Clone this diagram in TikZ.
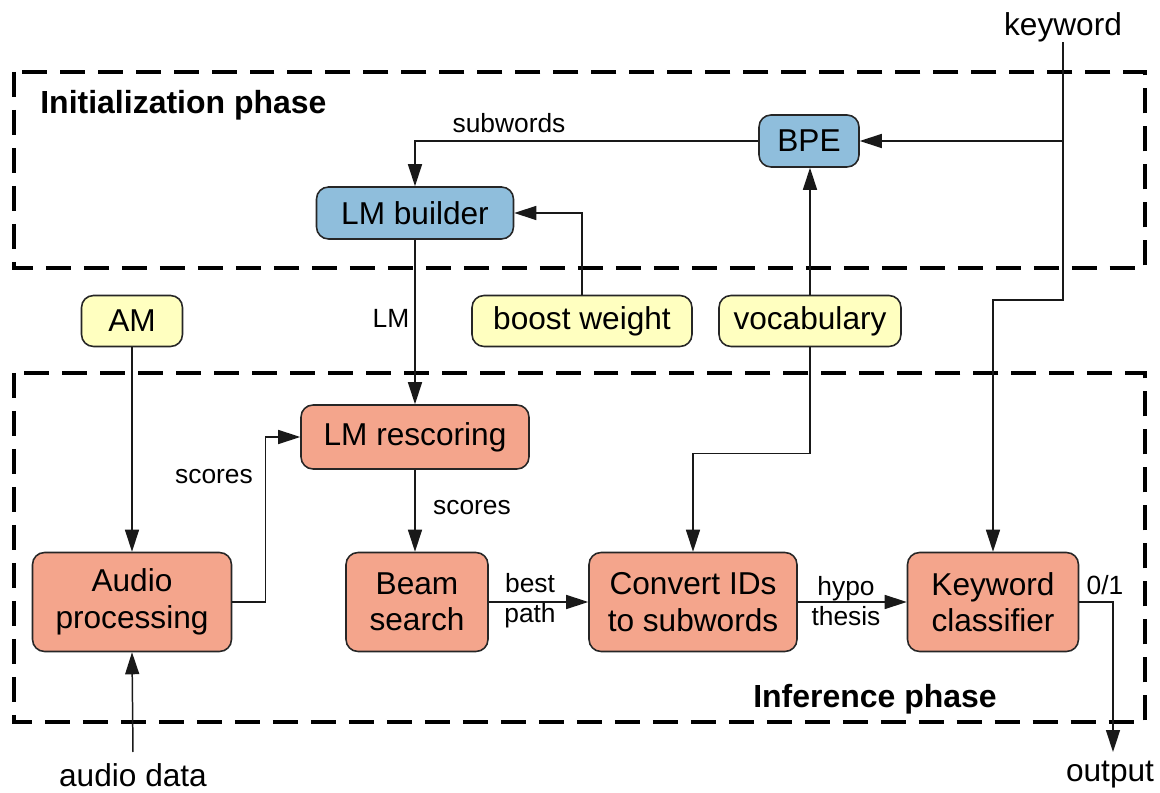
\documentclass[tikz,border=0pt]{standalone}
\usepackage{fontspec}
\setmainfont{Liberation Sans}
\usetikzlibrary{arrows.meta}
\definecolor{initblue}{RGB}{143,190,220}
\definecolor{infsalmon}{RGB}{244,165,140}
\definecolor{inpyellow}{RGB}{255,255,192}
\begin{document}
\begin{tikzpicture}[x=0.02cm,y=-0.02cm,
  box/.style={draw=black!85, line width=0.9pt, rounded corners=0.24cm, inner sep=0pt,
    align=center, font=\fontsize{18}{20.7}\selectfont},
  initbox/.style={box, fill=initblue},
  infbox/.style={box, fill=infsalmon},
  inbox/.style={box, fill=inpyellow},
  conn/.style={draw=black!90, line width=0.85pt, -{Triangle[length=0.44cm,width=0.28cm]}},
  phase/.style={draw=black, line width=0.08cm, dash pattern=on 0.5cm off 0.26cm},
  lbl/.style={font=\fontsize{15}{17}\selectfont, inner sep=0pt, align=center},
  big/.style={font=\fontsize{18}{20.7}\selectfont, inner sep=0pt},
  title/.style={font=\fontsize{18.2}{20}\selectfont\bfseries, inner sep=0pt}]

\useasboundingbox (0,0) rectangle (1160,793);

% phase frames
\draw[phase] (14,72) rectangle (1145,268);
\draw[phase] (14,373) rectangle (1145,722);
\node[title, anchor=west] (tinit) at (40,105) {Initialization phase};
\node[title] (tinf) at (875,699) {Inference phase};

% initialization blocks
\node[initbox, minimum width=2cm, minimum height=1.04cm] (bpe) at (809,141) {BPE};
\node[initbox, minimum width=3.94cm, minimum height=1.04cm] (lmb) at (415,213) {LM builder};

% inputs
\node[inbox, minimum width=2.02cm, minimum height=1.02cm] (am) at (132,321) {AM};
\node[inbox, minimum width=4.4cm, minimum height=1.02cm] (boost) at (582,321) {boost weight};
\node[inbox, minimum width=3.64cm, minimum height=1.02cm] (voc) at (810,321) {vocabulary};

% inference blocks
\node[infbox, minimum width=4.56cm, minimum height=1.28cm] (lmr) at (415,437) {LM rescoring};
\node[infbox, minimum width=3.98cm, minimum height=1.98cm] (audio) at (132,602) {Audio\\processing};
\node[infbox, minimum width=2.84cm, minimum height=1.98cm] (beam) at (417,602) {Beam\\search};
\node[infbox, minimum width=4.16cm, minimum height=1.98cm] (conv) at (693,602) {Convert IDs\\to subwords};
\node[infbox, minimum width=3.42cm, minimum height=1.98cm] (kc) at (993,602) {Keyword\\classifier};

% external texts
\node[big] (kw) at (1063,27) {keyword};
\node[big] (ad) at (133,775) {audio data};
\node[big] (out) at (1110,775) {output};
\coordinate (kwturn) at (1063,300);
\coordinate (adtop) at (133,752);
\coordinate (outend) at (1113,752);

% connectors
\draw[conn] (kw.south) -- (kwturn) -| (kc.north);
\draw[conn] (kw.south |- bpe.east) -- (bpe.east);
\draw[conn] (bpe.west) -| (lmb.north);
\draw[conn] (boost.north) |- (lmb.east);
\draw[conn] (voc.north) -- (voc.north |- bpe.south);
\draw[conn] (voc.south) -- ++(0,106) -| (conv.north);
\draw[conn] (lmb.south) -- (lmr.north);
\draw[conn] (am.south) -- (audio.north);
\draw[conn] (audio.east) -- ++(33,0) |- (lmr.west);
\draw[conn] (lmr.south) -- (lmr.south |- beam.north);
\draw[conn] (beam.east) -- (conv.west);
\draw[conn] (conv.east) -- (kc.west);
\draw[conn] (kc.east) -| (outend);
\draw[conn] (adtop) -- (audio.south);

% connector labels
\node[lbl] (lsub) at (509,123) {subwords};
\node[lbl] (llm) at (391,318) {LM};
\node[lbl] (lsc1) at (214,477) {scores};
\node[lbl] (lsc2) at (472,508) {scores};
\node[lbl] (lbest) at (530,601) {best\\path};
\node[lbl] (lhyp) at (846,601) {hypo\\thesis};
\node[lbl] (l01) at (1105,585) {0/1};
\end{tikzpicture}
\end{document}
